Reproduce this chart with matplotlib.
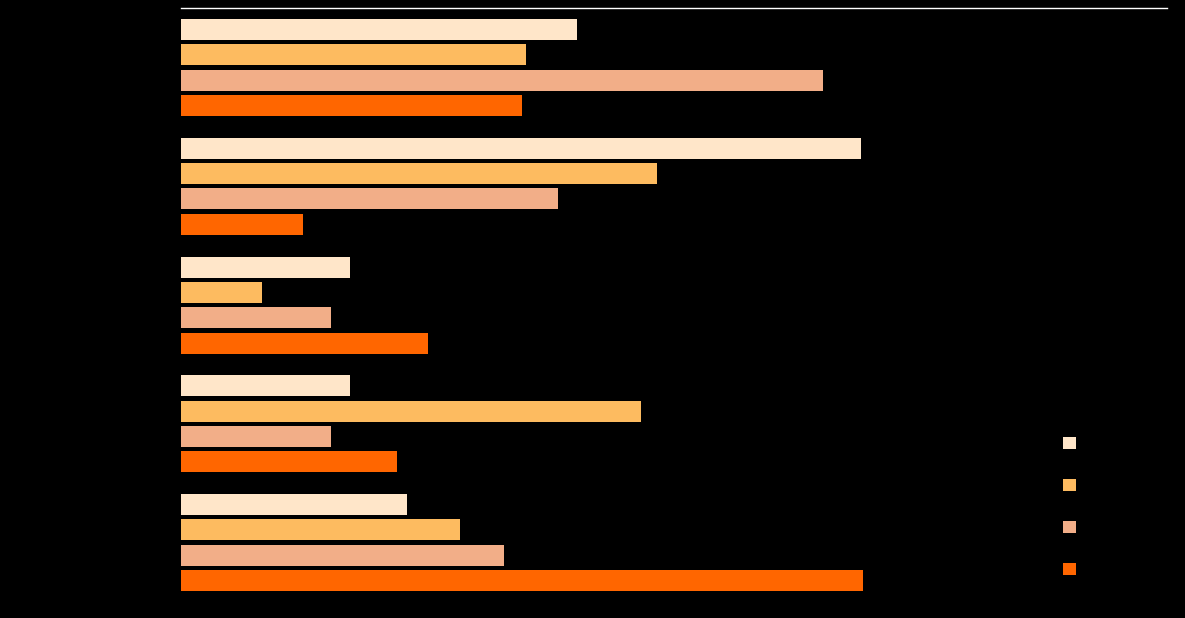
import matplotlib
matplotlib.use("Agg")
import matplotlib.pyplot as plt
import numpy as np

# Data (axis 0-100)
groups = ["Group 1", "Group 2", "Group 3", "Group 4", "Group 5"]
series_names = ["Series 1", "Series 2", "Series 3", "Series 4"]
series_1 = [40.2, 69.0, 17.1, 17.1, 22.9]
series_2 = [35.0, 48.3, 8.2, 46.7, 28.3]
series_3 = [65.1, 38.2, 15.2, 15.2, 32.8]
series_4 = [34.6, 12.4, 25.1, 21.9, 69.2]
colors = ["#FFE6C9", "#FDBB60", "#F2AE88", "#FF6600"]

fig = plt.figure(figsize=(11.85, 6.18), dpi=100, facecolor="black")
ax = fig.add_axes([181 / 1185, 1 - 595 / 618, 986 / 1185, 587 / 618])
ax.set_facecolor("black")

group_gap = 4.69
base = np.arange(len(groups)) * group_gap
all_series = [series_1, series_2, series_3, series_4]
for j, (vals, name, c) in enumerate(zip(all_series, series_names, colors)):
    ax.barh(base + j, vals, height=0.83, color=c, label=name)

ax.set_xlim(0, 100)
ax.set_ylim(base[-1] + 3 + 0.57, -0.85)
ax.set_yticks(base + 1.5)
ax.set_yticklabels(groups, color="black")
ax.tick_params(colors="black", length=0)
ax.set_xticks([])
for s in ["left", "right", "bottom"]:
    ax.spines[s].set_visible(False)
ax.spines["top"].set_color("white")
ax.spines["top"].set_linewidth(1)

leg = fig.legend(loc="upper left", bbox_to_anchor=(1058 / 1185, 1 - 432 / 618),
                 frameon=False, fontsize=9.4, handlelength=1, handleheight=1,
                 labelspacing=2.2, handletextpad=0.6, borderaxespad=0)
for t in leg.get_texts():
    t.set_color("black")

fig.savefig("out.png", dpi=100, facecolor="black")
